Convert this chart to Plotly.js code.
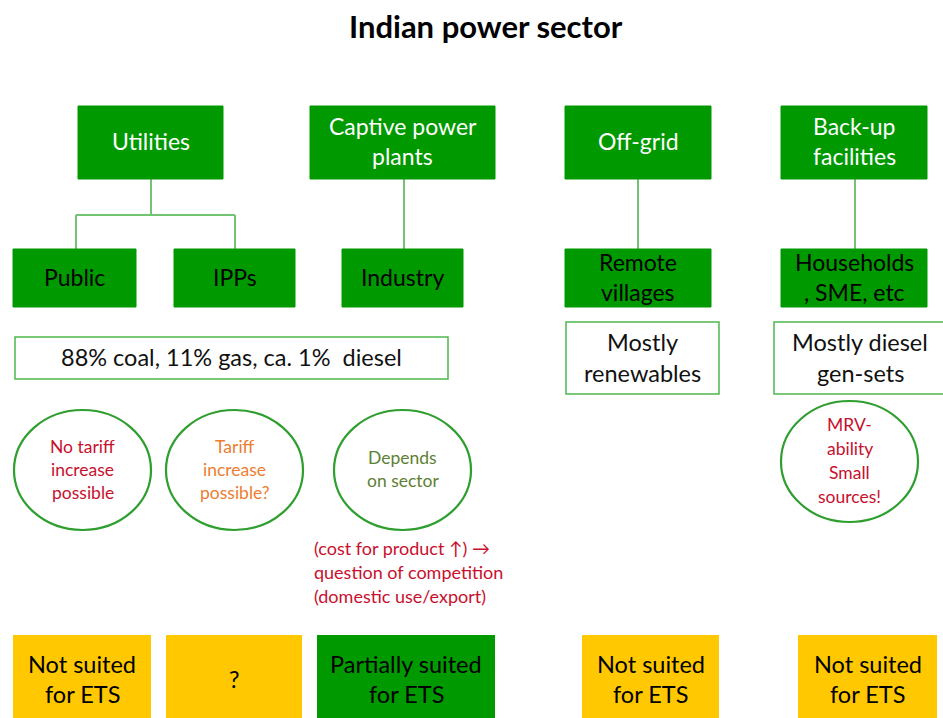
<!DOCTYPE html>
<html><head><meta charset="utf-8">
<script src="https://cdn.plot.ly/plotly-3.0.1.min.js"></script>
<style>html,body{margin:0;padding:0;background:#fff}</style>
</head><body><div id="chart" style="width:943px;height:718px"></div>
<script>
// ---- content ----
const titleText = "Indian power sector";
const groupLabels = ["Utilities", "Captive power\nplants", "Off-grid", "Back-up\nfacilities"];
const subLabels = ["Public", "IPPs", "Industry", "Remote\nvillages", "Households\n, SME, etc"];
const fuelLabels = ["88% coal, 11% gas, ca. 1%  diesel", "Mostly\nrenewables", "Mostly diesel\ngen-sets"];
const bubbleLabels = ["No tariff\nincrease\npossible", "Tariff\nincrease\npossible?", "Depends\non sector", "MRV-\nability\nSmall\nsources!"];
const noteLabel = "(cost for product ↑) →\nquestion of competition\n(domestic use/export)";
const verdictLabels = ["Not suited\nfor ETS", "?", "Partially suited\nfor ETS", "Not suited\nfor ETS", "Not suited\nfor ETS"];
const verdictKinds = ["no", "unsure", "partial", "no", "no"];

// ---- layout geometry ----
const groupBoxes = [[78,223,106,179],[310,495,106,179],[565,711,106,179],[781,927,106,179]];
const subBoxes = [[13,136,249,307],[174,295,249,307],[342,463,249,307],[565,711,249,307],[781,927,249,307]];
const fuelBoxes = [[15,448,337,379],[566,719,322,394],[774,946,322,394]];
const bubbles = [[14,151,410,530],[166,303,410,530],[334,471,410,530],[781,918,401,522]];
const bubbleColors = ["#C8102E", "#ED7D31", "#5E7F34", "#C8102E"];
const verdictBoxes = [[13,151,635,720],[166,302,635,720],[317,495,635,720],[582,719,635,720],[798,937,635,720]];
const kindColor = {no:"#FFC800", unsure:"#FFC800", partial:"#009900"};

const GREEN = "#009900", LINE = "#72C472", BORDER = "#4DB84D", CIRC = "#2E9E2E";
const FONT = "Lato, 'Open Sans', sans-serif";

const shapes = [], ann = [];
function rect(b, fill, line, lw){
  shapes.push({type:"rect", xref:"x", yref:"y", x0:b[0], x1:b[1], y0:b[2], y1:b[3],
    fillcolor:fill, line:{color:line, width:lw}, layer:"below"});
}
function seg(x0,y0,x1,y1){
  shapes.push({type:"line", xref:"x", yref:"y", x0, y0, x1, y1, line:{color:LINE, width:2}, layer:"below"});
}
function text(str, cx, cy, size, color, gap, align, bold){
  const lines = str.split("\n");
  const n = lines.length;
  lines.forEach((t,i)=>{
    ann.push({x:cx, y:cy + (i-(n-1)/2)*gap, xref:"x", yref:"y", text: bold?("<b>"+t+"</b>"):t,
      showarrow:false, xanchor: align||"center", yanchor:"middle",
      font:{family:FONT, size, color}});
  });
}
const cx = b => (b[0]+b[1])/2, cy = b => (b[2]+b[3])/2;

// connectors
seg(151,179,151,215); seg(76,215,235,215); seg(76,215,76,249); seg(235,215,235,249);
seg(404,179,404,249); seg(638,179,638,249); seg(855,179,855,249);

groupBoxes.forEach((b,i)=>{ rect(b, GREEN, GREEN, 1); text(groupLabels[i], cx(b), cy(b)-2, 23, "#FFFFFF", 30); });
subBoxes.forEach((b,i)=>{ rect(b, GREEN, GREEN, 1); text(subLabels[i], cx(b), cy(b)-1, 23, "#000000", 30); });
fuelBoxes.forEach((b,i)=>{ rect(b, "#FFFFFF", BORDER, 1.5); text(fuelLabels[i], i===2?860:cx(b), cy(b)-1, 23.5, "#111111", 31); });
bubbles.forEach((b,i)=>{
  shapes.push({type:"circle", xref:"x", yref:"y", x0:b[0], x1:b[1], y0:b[2], y1:b[3],
    fillcolor:"rgba(255,255,255,0)", line:{color:CIRC, width:2.2}});
  text(bubbleLabels[i], cx(b), cy(b)-1, 17.5, bubbleColors[i], i===3?24:23);
});
text(noteLabel, 312, 572, 18, "#C8102E", 24, "left");
verdictBoxes.forEach((b,i)=>{ rect(b, kindColor[verdictKinds[i]], kindColor[verdictKinds[i]], 0);
  text(verdictLabels[i], cx(b), 679, 23.5, "#000000", 30); });

const layout = {
  width:943, height:718, margin:{l:0,r:0,t:0,b:0},
  paper_bgcolor:"#FFFFFF", plot_bgcolor:"#FFFFFF", showlegend:false,
  title:{text:"<b>"+titleText+"</b>", x:0.515, xanchor:"center", y:0.962, yanchor:"middle",
    font:{family:FONT, size:31, color:"#000000"}},
  xaxis:{range:[0,943], visible:false, fixedrange:true},
  yaxis:{range:[718,0], visible:false, fixedrange:true},
  shapes, annotations: ann
};
Plotly.newPlot("chart", [{x:[0], y:[0], mode:"markers", marker:{opacity:0}, hoverinfo:"skip"}], layout, {staticPlot:true});
</script></body></html>
